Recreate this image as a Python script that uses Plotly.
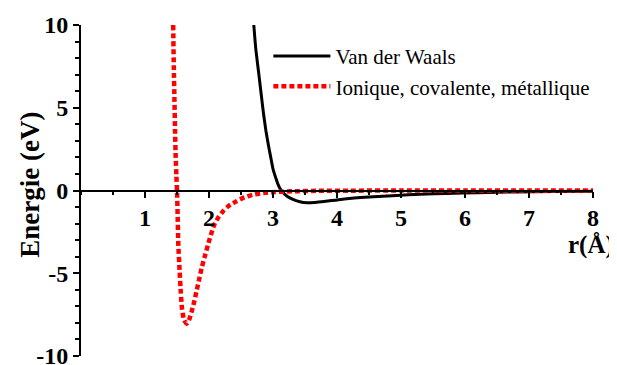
import plotly.graph_objects as go

# Van der Waals curve
vdw_r = [2.70, 2.73, 2.77, 2.81, 2.85, 2.89, 2.93, 2.97, 3.00, 3.04, 3.08, 3.12, 3.16,
         3.22, 3.32, 3.42, 3.53, 3.65, 3.80, 4.00, 4.15, 4.50, 4.93, 5.30, 5.71, 6.20,
         6.80, 7.40, 8.00]
vdw_e = [10.0, 8.6, 7.3, 6.0, 4.7, 3.6, 2.7, 1.9, 1.3, 0.8, 0.36, 0.05, -0.14,
         -0.35, -0.55, -0.68, -0.74, -0.72, -0.66, -0.58, -0.50, -0.40, -0.30, -0.23,
         -0.18, -0.13, -0.09, -0.06, -0.04]

# Ionic / covalent / metallic curve
ion_r = [1.44, 1.45, 1.46, 1.47, 1.48, 1.49, 1.50, 1.51, 1.52, 1.54, 1.56, 1.58, 1.61,
         1.65, 1.69, 1.73, 1.77, 1.81, 1.85, 1.89, 1.94, 1.99, 2.04, 2.09, 2.15, 2.22,
         2.30, 2.43, 2.55, 2.69, 2.85, 3.00, 3.30, 3.70, 4.20, 5.00, 6.00, 7.00, 8.00]
ion_e = [10.0, 7.5, 5.5, 3.5, 2.0, 0.9, 0.0, -1.5, -3.2, -4.8, -6.2, -7.2, -7.8,
         -8.05, -7.8, -7.3, -6.7, -6.0, -5.3, -4.6, -3.9, -3.2, -2.55, -2.0, -1.6, -1.25,
         -0.95, -0.65, -0.42, -0.25, -0.15, -0.10, -0.05, -0.02, -0.01, 0.0, 0.0, 0.0, 0.0]

x_ticks = [1, 2, 3, 4, 5, 6, 7, 8]
y_ticks = [-10, -5, 0, 5, 10]
y_tick_text = ["-10", "-5", "0", "5", "10"]

SERIF = "Times New Roman, Liberation Serif, serif"

fig = go.Figure()
fig.add_trace(go.Scatter(x=vdw_r, y=vdw_e, mode="lines", name="Van der Waals",
                         legendgroup="a",
                         line=dict(color="black", width=3, shape="spline", smoothing=0.6)))
fig.add_trace(go.Scatter(x=ion_r, y=ion_e, mode="lines", name="Ionique, covalente, métallique",
                         legendgroup="b",
                         line=dict(color="#ff0000", width=4.5, dash="5px,3px", shape="spline", smoothing=0.6)))

fig.update_layout(
    width=617, height=365,
    margin=dict(l=73, r=32, t=17, b=17),
    paper_bgcolor="white", plot_bgcolor="white",
    font=dict(family=SERIF, color="black"),
    showlegend=True,
    legend=dict(x=0.366, y=0.967, xanchor="left", yanchor="top",
                font=dict(family=SERIF, size=21, color="black"),
                itemwidth=57,
                bgcolor="rgba(0,0,0,0)", tracegroupgap=0, traceorder="grouped"),
    xaxis=dict(range=[0, 8], anchor="free", position=0.5, showgrid=False, zeroline=False,
               automargin=False,
               showline=True, linecolor="black", linewidth=2,
               tickvals=x_ticks, ticks="outside", ticklen=6, tickwidth=2, tickcolor="black",
               minor=dict(dtick=0.5, tick0=0, ticks="outside", ticklen=3, tickwidth=1.5, tickcolor="black"),
               tickfont=dict(family=SERIF, size=24, color="black", weight="bold")),
    yaxis=dict(range=[-10, 10], showgrid=False, zeroline=False,
               automargin=False,
               showline=True, linecolor="black", linewidth=2,
               tickvals=y_ticks, ticktext=y_tick_text, ticks="outside", ticklen=6, tickwidth=2,
               tickcolor="black",
               minor=dict(dtick=1, tick0=0, ticks="outside", ticklen=4, tickwidth=1.5, tickcolor="black"),
               tickfont=dict(family=SERIF, size=24, color="black", weight="bold")),
)

# y-axis title as rotated annotation (sits closer to the tick labels than a standoff allows)
fig.add_annotation(text="Energie (eV)", xref="paper", yref="paper", x=-0.1, y=0.517,
                   xanchor="center", yanchor="middle", textangle=-90, showarrow=False,
                   font=dict(family=SERIF, size=27, color="black", weight="bold"))

fig.add_annotation(text="r(Å)", xref="paper", yref="y", x=1.045, y=-3.3,
                   xanchor="right", yanchor="middle", showarrow=False,
                   font=dict(family=SERIF, size=25, color="black", weight="bold"))

fig.write_html("out.html")
